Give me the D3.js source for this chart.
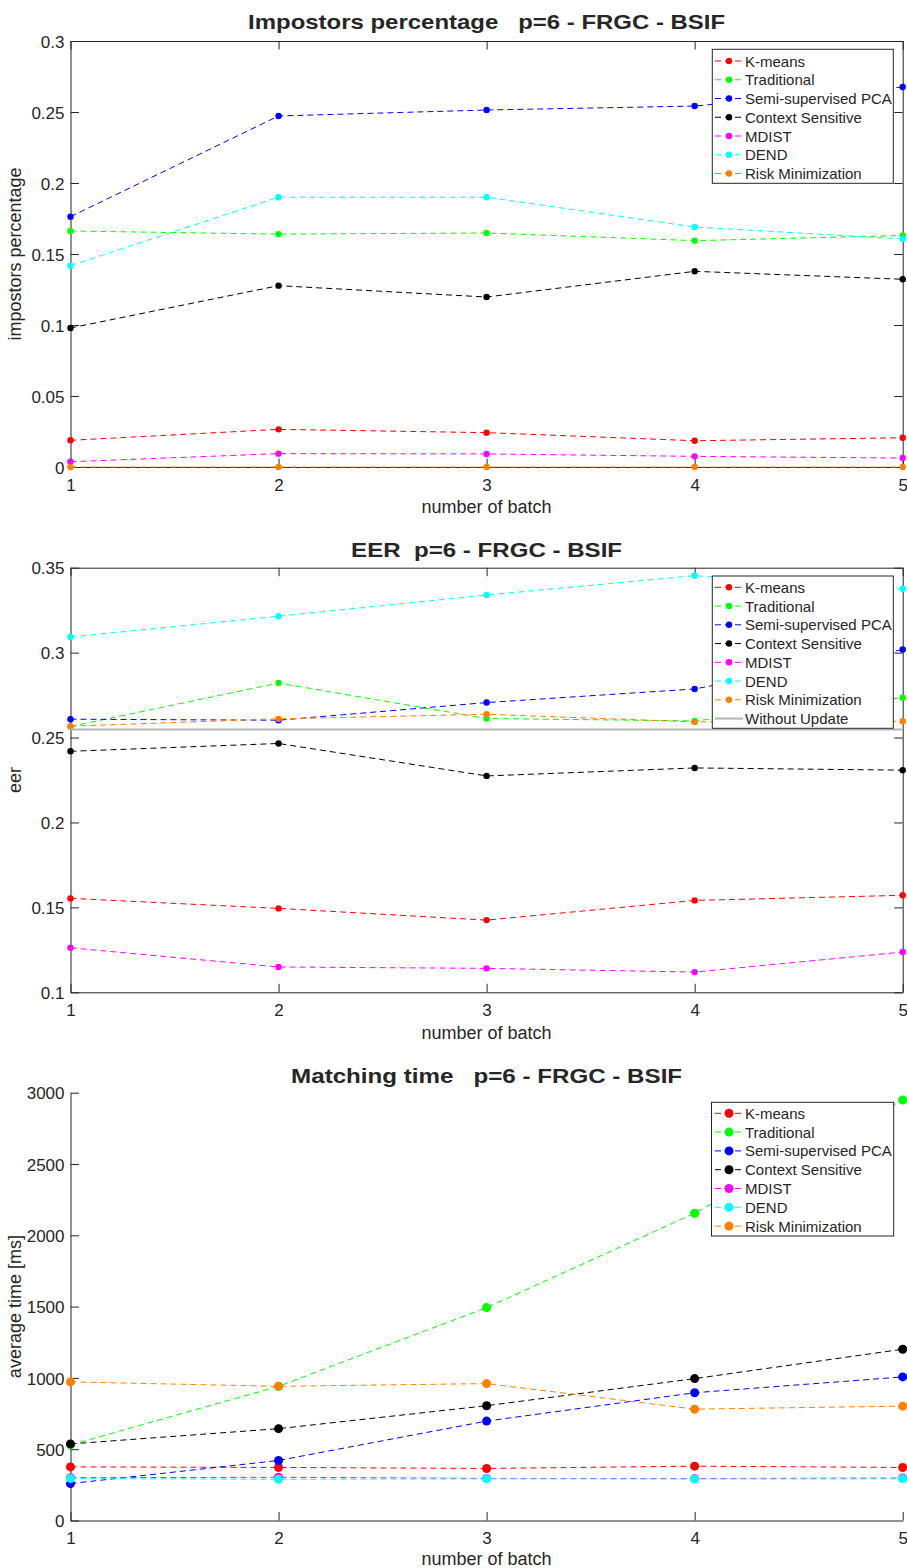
<!DOCTYPE html>
<html><head><meta charset="utf-8">
<script src="https://cdn.jsdelivr.net/npm/d3@7"></script>
<style>
body{margin:0;background:#fff}
svg{display:block}
text{font-family:"Liberation Sans",Arial,Helvetica,sans-serif;fill:#262626}
</style>
</head><body>
<svg id="c" width="907" height="1568"></svg>
<script>
// ---------- data ----------
const batches = [1, 2, 3, 4, 5];
const methodNames = ["K-means", "Traditional", "Semi-supervised PCA", "Context Sensitive", "MDIST", "DEND", "Risk Minimization"];
const baselineName = "Without Update";
const methodColors = ["#ff0000", "#00ff00", "#0000ff", "#000000", "#ff00ff", "#00ffff", "#ff8000"];

// Impostors percentage
const impKmeans      = [0.0188, 0.0265, 0.0242, 0.0185, 0.0206];
const impTraditional = [0.1662, 0.1640, 0.1648, 0.1594, 0.1630];
const impSemiPCA     = [0.1763, 0.2472, 0.2514, 0.2542, 0.2676];
const impContext     = [0.0979, 0.1277, 0.1197, 0.1378, 0.1322];
const impMDIST       = [0.0037, 0.0094, 0.0092, 0.0075, 0.0063];
const impDEND        = [0.1418, 0.1900, 0.1900, 0.1690, 0.1606];
const impRisk        = [0, 0, 0, 0, 0];
const impTicks = [0, 0.05, 0.1, 0.15, 0.2, 0.25, 0.3];

// EER
const eerKmeans      = [0.1553, 0.1494, 0.1425, 0.1541, 0.1571];
const eerTraditional = [0.2565, 0.2821, 0.2612, 0.2598, 0.2735];
const eerSemiPCA     = [0.2608, 0.2602, 0.2706, 0.2786, 0.3018];
const eerContext     = [0.2419, 0.2465, 0.2274, 0.2321, 0.2308];
const eerMDIST       = [0.1262, 0.1149, 0.1141, 0.1119, 0.1237];
const eerDEND        = [0.3092, 0.3214, 0.3339, 0.3453, 0.3376];
const eerRisk        = [0.2567, 0.2610, 0.2637, 0.2592, 0.2596];
const eerWithoutUpdate = [0.2547, 0.2547, 0.2547, 0.2547, 0.2547];
const eerTicks = [0.1, 0.15, 0.2, 0.25, 0.3, 0.35];

// Matching time [ms]
const timeKmeans      = [376, 372, 365, 381, 372];
const timeTraditional = [530, 941, 1493, 2155, 2949];
const timeSemiPCA     = [259, 421, 697, 896, 1007];
const timeContext     = [537, 644, 805, 995, 1201];
const timeMDIST       = [300, 303, 295, 294, 298];
const timeDEND        = [294, 289, 292, 291, 292];
const timeRisk        = [972, 941, 960, 781, 802];
const timeTicks = [0, 500, 1000, 1500, 2000, 2500, 3000];

// ---------- layout ----------
const svg = d3.select("#c");
const X0 = 70.5, X1 = 902.7;
const AX = "#262626";
const FONT_TICK = 17, FONT_LABEL = 18, FONT_LEG = 15;

const charts = [
  { title: "Impostors percentage   p=6 - FRGC - BSIF", titleW: 477, titleY: 29,
    ylabel: "impostors percentage", top: 41, bottom: 467, domain: [0, 0.3], ticks: impTicks,
    series: [impKmeans, impTraditional, impSemiPCA, impContext, impMDIST, impDEND, impRisk],
    base: null, box: true, r: 3.2, xlab: 513,
    leg: { x0: 712.3, x1: 893.3, y0: 49.3, y1: 183.3, row0: 61, step: 18.75 } },
  { title: "EER  p=6 - FRGC - BSIF", titleW: 271, titleY: 557,
    ylabel: "eer", top: 567.7, bottom: 992.3, domain: [0.1, 0.35], ticks: eerTicks,
    series: [eerKmeans, eerTraditional, eerSemiPCA, eerContext, eerMDIST, eerDEND, eerRisk],
    base: eerWithoutUpdate, box: true, r: 3.2, xlab: 1038.5,
    leg: { x0: 712.3, x1: 893.3, y0: 576, y1: 728.3, row0: 587.3, step: 18.75 } },
  { title: "Matching time   p=6 - FRGC - BSIF", titleW: 391, titleY: 1083,
    ylabel: "average time [ms]", top: 1092.7, bottom: 1520.5, domain: [0, 3000], ticks: timeTicks,
    series: [timeKmeans, timeTraditional, timeSemiPCA, timeContext, timeMDIST, timeDEND, timeRisk],
    base: null, box: false, r: 4.5, xlab: 1564.5,
    leg: { x0: 711.5, x1: 893.7, y0: 1102.3, y1: 1236, row0: 1113.3, step: 18.8 } }
];

const x = d3.scaleLinear().domain([1, 5]).range([X0, X1]);
const TL = 8.5;

function styleAxis(g) {
  g.select(".domain").attr("stroke", AX).attr("stroke-width", 1);
  g.selectAll(".tick line").attr("stroke", AX).attr("stroke-width", 1);
  g.selectAll(".tick text").attr("fill", AX).style("font-size", FONT_TICK + "px")
    .style("font-family", '"Liberation Sans",Arial,sans-serif');
}

charts.forEach(c => {
  const y = d3.scaleLinear().domain(c.domain).range([c.bottom, c.top]);
  const g = svg.append("g");

  if (c.box) {
    g.append("g").attr("transform", `translate(0,${c.top})`)
      .call(d3.axisTop(x).tickValues(batches).tickSize(-TL).tickSizeOuter(0).tickFormat(""))
      .call(styleAxis);
    g.append("g").attr("transform", `translate(${X1},0)`)
      .call(d3.axisRight(y).tickValues(c.ticks).tickSize(-TL).tickSizeOuter(0).tickFormat(""))
      .call(styleAxis);
  }

  const gx = g.append("g").attr("transform", `translate(0,${c.bottom})`)
    .call(d3.axisBottom(x).tickValues(batches).tickSize(-TL).tickSizeOuter(0).tickFormat(d => String(d)))
    .call(styleAxis);
  gx.selectAll(".tick text").attr("y", 23.5).attr("dy", null);

  const gy = g.append("g").attr("transform", `translate(${X0},0)`)
    .call(d3.axisLeft(y).tickValues(c.ticks).tickSize(-TL).tickSizeOuter(0).tickFormat(d => String(d)))
    .call(styleAxis);
  gy.selectAll(".tick text").attr("x", -6).attr("dy", "0.36em");

  g.append("text").attr("x", (X0 + X1) / 2).attr("y", c.titleY)
    .attr("text-anchor", "middle").style("white-space", "pre")
    .style("font-size", "21px").style("font-weight", "bold").attr("fill", "#000")
    .attr("textLength", c.titleW).attr("lengthAdjust", "spacingAndGlyphs")
    .text(c.title);

  g.append("text").attr("x", (X0 + X1) / 2).attr("y", c.xlab)
    .attr("text-anchor", "middle").style("font-size", FONT_LABEL + "px")
    .text("number of batch");

  g.append("text").attr("transform", `translate(21,${(c.top + c.bottom) / 2}) rotate(-90)`)
    .attr("text-anchor", "middle").style("font-size", FONT_LABEL + "px")
    .text(c.ylabel);

  const line = d3.line().x((d, i) => x(batches[i])).y(d => y(d));
  c.series.forEach((vals, k) => {
    const col = methodColors[k];
    g.append("path").attr("d", line(vals)).attr("fill", "none")
      .attr("stroke", col).attr("stroke-width", 1).attr("stroke-dasharray", "6,4");
    g.selectAll(null).data(vals).enter().append("circle")
      .attr("cx", (d, i) => x(batches[i])).attr("cy", d => y(d))
      .attr("r", c.r).attr("fill", col);
  });
  if (c.base) {
    g.append("path").attr("d", line(c.base)).attr("fill", "none")
      .attr("stroke", "#b5b5b5").attr("stroke-width", 2);
  }

  const L = c.leg;
  const lg = g.append("g");
  lg.append("rect").attr("x", L.x0).attr("y", L.y0)
    .attr("width", L.x1 - L.x0).attr("height", L.y1 - L.y0)
    .attr("fill", "#fff").attr("stroke", AX).attr("stroke-width", 1);
  const entries = methodNames.map((n, k) => ({ name: n, color: methodColors[k], base: false }));
  if (c.base) entries.push({ name: baselineName, color: "#b5b5b5", base: true });
  entries.forEach((e, k) => {
    const ry = L.row0 + k * L.step;
    if (e.base) {
      lg.append("line").attr("x1", 715).attr("x2", 743).attr("y1", ry).attr("y2", ry)
        .attr("stroke", e.color).attr("stroke-width", 2);
    } else {
      lg.append("line").attr("x1", 715).attr("x2", 743).attr("y1", ry).attr("y2", ry)
        .attr("stroke", e.color).attr("stroke-width", 1).attr("stroke-dasharray", "6,4");
      lg.append("circle").attr("cx", 729).attr("cy", ry).attr("r", c.r).attr("fill", e.color);
    }
    lg.append("text").attr("x", 745).attr("y", ry + 5.5)
      .style("font-size", FONT_LEG + "px").attr("fill", "#000").text(e.name);
  });
});
</script>
</body></html>
